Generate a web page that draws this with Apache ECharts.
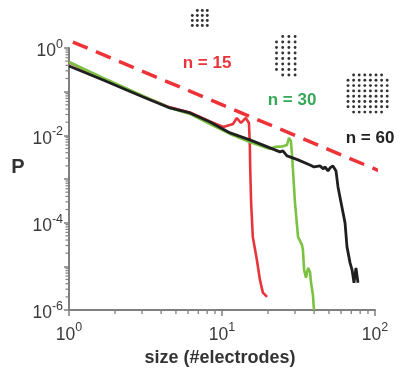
<!DOCTYPE html>
<html><head><meta charset="utf-8">
<script src="https://cdn.jsdelivr.net/npm/echarts@6/dist/echarts.min.js"></script>
<style>html,body{margin:0;padding:0;background:#fff}#c{width:415px;height:381px}</style>
</head><body><div id="c"></div>
<script>
// ---- data ----
const sizeN15 = [1,1.67,3.05,4.57,6.18,8.35,10.2,11.8,12.5,13.3,14.3,15.0,15.2,15.3,15.5,15.9,16.9,17.7,18.5,19.7];
const probN15 = [0.47,0.2,0.0775,0.0437,0.0335,0.0209,0.0156,0.0182,0.025,0.0192,0.025,0.0192,0.00603,0.00162,0.000284,0.0000473,0.0000141,0.0000049,0.0000025,0.000002];

const sizeN30 = [1,1.67,3.05,4.57,6.18,8.35,11.3,15.2,20.6,22.2,25.0,26.6,27.4,28.2,28.7,29.1,30,31.4,33.3,33.8,34.4,35.4,36.5,37.6,38.2,39.3,39.9];
const probN30 = [0.478,0.206,0.0797,0.0424,0.0309,0.0182,0.01076,0.00706,0.00489,0.00543,0.0056,0.0060,0.00873,0.00745,0.00356,0.00162,0.000284,0.0000473,0.000031,0.0000239,0.0000083,0.0000055,0.0000092,0.0000075,0.0000042,0.0000022,0.000001];

const sizeN60 = [1,1.67,3.05,4.57,6.18,8.35,11.3,15.2,20.6,23.9,25.0,26.6,27.8,31.4,37.6,40,43.7,46,47.1,49.3,50.8,53.1,55.6,56.5,57.3,59,63.7,65.6,68.7,70.8,72.9,75.1,77.4];
const probN60 = [0.387,0.185,0.0756,0.0424,0.0326,0.0203,0.01135,0.00785,0.00515,0.00417,0.0044,0.00338,0.00321,0.00274,0.0021,0.00189,0.0020,0.0017,0.00189,0.00153,0.00179,0.0020,0.00153,0.00138,0.000659,0.000389,0.000099,0.0000279,0.000012,0.0000083,0.0000042,0.0000092,0.0000042];

const sizeFit = [1.06, 111];
const probFit = [1.37, 0.00145];

const xTickValues = [1, 10, 100];
const yTickValues = [1, 1e-2, 1e-4, 1e-6];

const seriesLabels = ['n = 15', 'n = 30', 'n = 60'];

// ---- chart ----
const FONT = '"Liberation Sans", Arial, sans-serif';
const AXIS_COLOR = '#7f7f7f';
const TEXT_COLOR = '#3a3a3a';
const zip = (a, b) => a.map((v, i) => [v, b[i]]);

function expLabel(v) {
  const e = Math.round(Math.log10(v));
  return '{b|10}{s|' + e + '}';
}
const richLbl = {
  b: { fontSize: 17.5, fontFamily: FONT, color: TEXT_COLOR, padding: [7, 0, 0, 0] },
  s: { fontSize: 12.5, fontFamily: FONT, color: TEXT_COLOR, padding: [0, 0, 7, 0] }
};

const chart = echarts.init(document.getElementById('c'), null, { renderer: 'canvas' });
const option = {
  animation: false,
  backgroundColor: '#fff',
  grid: { left: 69, right: 40, top: 48, bottom: 71, containLabel: false },
  xAxis: {
    type: 'log', logBase: 10, min: 1, max: 100,
    splitLine: { show: false },
    axisLine: { lineStyle: { color: AXIS_COLOR, width: 2 } },
    axisTick: { show: true, length: 6, lineStyle: { color: AXIS_COLOR, width: 1.5 } },
    axisLabel: {
      margin: 9, color: TEXT_COLOR,
      formatter: v => xTickValues.some(t => Math.abs(Math.log10(t) - Math.log10(v)) < 1e-6) ? expLabel(v) : '',
      rich: richLbl
    }
  },
  yAxis: {
    type: 'log', logBase: 10, min: 1e-6, max: 1,
    splitLine: { show: false },
    axisLine: { lineStyle: { color: AXIS_COLOR, width: 2 } },
    axisTick: { show: true, length: 5, lineStyle: { color: AXIS_COLOR, width: 1.5 } },
    axisLabel: {
      margin: 6, color: TEXT_COLOR,
      formatter: v => yTickValues.some(t => Math.abs(Math.log10(t) - Math.log10(v)) < 1e-6) ? expLabel(v) : '',
      rich: richLbl
    }
  },
  series: [
    { name: seriesLabels[0], type: 'line', data: zip(sizeN15, probN15), showSymbol: false, symbol: 'none',
      lineStyle: { color: '#e8353b', width: 2.6 }, z: 3 },
    { name: seriesLabels[1], type: 'line', data: zip(sizeN30, probN30), showSymbol: false, symbol: 'none',
      lineStyle: { color: '#7cc242', width: 2.6 }, z: 4 },
    { name: seriesLabels[2], type: 'line', data: zip(sizeN60, probN60), showSymbol: false, symbol: 'none',
      lineStyle: { color: '#1f1f1f', width: 2.8 }, z: 5 },
    { name: 'fit', type: 'line', data: zip(sizeFit, probFit), showSymbol: false, symbol: 'none', clip: false,
      lineStyle: { color: '#ee3338', width: 3.5, type: [16, 9] }, z: 6 }
  ]
};
chart.setOption(option);

// minor ticks at 2..9 of each decade, placed through the axes' own scales
const g = [];
for (let d = 0; d < 2; d++) {
  for (let k = 2; k <= 9; k++) {
    const v = k * Math.pow(10, d);
    const px = chart.convertToPixel({ xAxisIndex: 0 }, v);
    const py0 = chart.convertToPixel({ yAxisIndex: 0 }, 1e-6);
    g.push({ type: 'line', shape: { x1: px, y1: py0, x2: px, y2: py0 + 4 }, style: { stroke: AXIS_COLOR, lineWidth: 1.3 }, silent: true });
  }
}
for (let d = -6; d < 0; d++) {
  for (let k = 2; k <= 9; k++) {
    const v = k * Math.pow(10, d);
    const py = chart.convertToPixel({ yAxisIndex: 0 }, v);
    const px0 = chart.convertToPixel({ xAxisIndex: 0 }, 1);
    g.push({ type: 'line', shape: { x1: px0 - 3.5, y1: py, x2: px0, y2: py }, style: { stroke: AXIS_COLOR, lineWidth: 1.2 }, silent: true });
  }
}

// electrode array icons (decorative)
function grid(x0, y0, dx, dy, cols, rows, skip) {
  for (let r = 0; r < rows; r++) for (let c = 0; c < cols; c++) {
    if (skip(r, c)) continue;
    g.push({ type: 'circle', shape: { cx: x0 + c * dx, cy: y0 + r * dy, r: 1.45 }, style: { fill: '#333' }, silent: true });
  }
}
grid(192.3, 10.5, 5, 5, 4, 4, (r, c) => r === 0 && c === 0);
grid(276.5, 36.5, 6.2, 5.5, 4, 8, (r, c) => (r === 0 || r === 7) && c === 0);
grid(348, 75, 5.6, 5.3, 8, 8, (r, c) => (r === 0 || r === 7) && (c === 0 || c === 7));

// annotations and axis names
const lbl = (text, x, y, color, size) => g.push({ type: 'text', x, y, silent: true,
  style: { text, fill: color, font: 'bold ' + size + 'px ' + FONT, textAlign: 'center', textVerticalAlign: 'middle' } });
lbl(seriesLabels[0], 207, 63, '#e8353b', 17);
lbl(seriesLabels[1], 292, 100, '#35a858', 17);
lbl(seriesLabels[2], 370, 138, '#222', 17);
lbl('P', 18, 167, '#333', 20);
lbl('size (#electrodes)', 220, 358, '#333', 18);

chart.setOption({ graphic: { elements: g } });
</script>
</body></html>
